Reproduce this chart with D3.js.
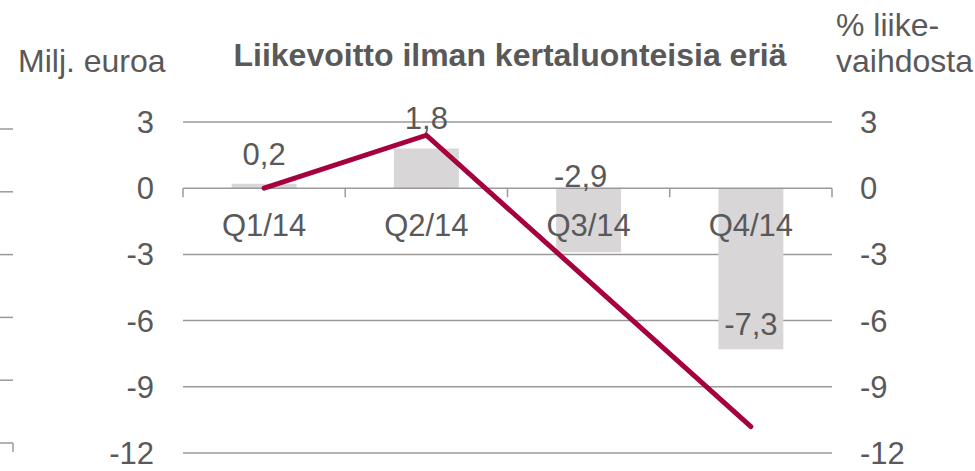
<!DOCTYPE html>
<html>
<head>
<meta charset="utf-8">
<script src="https://cdn.jsdelivr.net/npm/d3@7"></script>
<style>
	body { margin: 0; background: #fff; }
	svg { display: block; font-family: "Liberation Sans", Arial, sans-serif; }
</style>
</head>
<body>
<svg id="chart" width="975" height="471"></svg>
<script>
// data
let categories = ['Q1/14', 'Q2/14', 'Q3/14', 'Q4/14']
let profit = [0.2, 1.8, -2.9, -7.3]         // Milj. euroa (bars)
let margin = [0.0, 2.4, -4.2, -10.8]        // % liikevaihdosta (line)
let profitLabels = ['0,2', '1,8', '-2,9', '-7,3']
let yTicks = [3, 0, -3, -6, -9, -12]
let ghostTicks = [0, 1, 2, 3, 4, 5]         // cut-off axis of a neighbour chart at the left edge

let svg = d3.select('#chart')
let textColor = '#595959'
let gridColor = '#9a9a9a'
let fontSize = 31

let x = d3.scaleBand()
	.domain(categories)
	.range([183, 832])
	.paddingInner(0)
	.paddingOuter(0)

let y = d3.scaleLinear()
	.domain([-12, 3])
	.range([453, 122])

// gridlines
svg.append('g')
	.selectAll('line')
	.data(yTicks.filter(d => d !== 0))
	.enter()
	.append('line')
	.attr('x1', 183)
	.attr('x2', 832)
	.attr('y1', d => y(d))
	.attr('y2', d => y(d))
	.attr('stroke', gridColor)
	.attr('stroke-width', 1.5)

// bars
let barW = x.bandwidth() * 0.4
svg.append('g')
	.selectAll('rect')
	.data(profit)
	.enter()
	.append('rect')
	.attr('x', (d, i) => x(categories[i]) + (x.bandwidth() - barW) / 2)
	.attr('y', d => y(Math.max(0, d)))
	.attr('width', barW)
	.attr('height', d => Math.abs(y(d) - y(0)))
	.attr('fill', '#d8d6d7')

// zero axis with category ticks
let bottomAxis = d3.axisBottom(x).tickSize(0).tickFormat('')
let axisG = svg.append('g')
	.attr('transform', `translate(0, ${y(0)})`)
	.call(bottomAxis)
axisG.select('.domain').remove()
axisG.append('line')
	.attr('x1', 183).attr('x2', 832)
	.attr('stroke', gridColor).attr('stroke-width', 1.5)
axisG.selectAll('.bound')
	.data(categories.concat(['end']))
	.enter()
	.append('line')
	.attr('x1', (d, i) => i < categories.length ? x(d) : x.range()[1])
	.attr('x2', (d, i) => i < categories.length ? x(d) : x.range()[1])
	.attr('y1', 0).attr('y2', 9)
	.attr('stroke', gridColor).attr('stroke-width', 1.5)

// category labels
svg.append('g')
	.selectAll('text')
	.data(categories)
	.enter()
	.append('text')
	.attr('x', d => x(d) + x.bandwidth() / 2)
	.attr('y', y(0) + 48)
	.attr('text-anchor', 'middle')
	.attr('fill', textColor)
	.attr('font-size', fontSize)
	.text(d => d)

// line
let line = d3.line()
	.x((d, i) => x(categories[i]) + x.bandwidth() / 2)
	.y(d => y(d))
svg.append('path')
	.datum(margin)
	.attr('d', line)
	.attr('fill', 'none')
	.attr('stroke', '#a6003f')
	.attr('stroke-width', 5)
	.attr('stroke-linecap', 'round')
	.attr('stroke-linejoin', 'miter')

// data labels
let labelOffset = [[0, -19], [0, -19], [-8, -1], [0, -14]]
svg.append('g')
	.selectAll('text')
	.data(profit)
	.enter()
	.append('text')
	.attr('x', (d, i) => x(categories[i]) + x.bandwidth() / 2 + labelOffset[i][0])
	.attr('y', (d, i) => (d >= 0 || i === 2 ? y(Math.max(d, 0)) : y(d)) + labelOffset[i][1])
	.attr('text-anchor', 'middle')
	.attr('fill', textColor)
	.attr('font-size', fontSize)
	.text((d, i) => profitLabels[i])

// y tick labels, both sides (same scale)
svg.append('g')
	.selectAll('text')
	.data(yTicks)
	.enter()
	.append('text')
	.attr('x', 154)
	.attr('y', d => y(d) + 11)
	.attr('text-anchor', 'end')
	.attr('fill', textColor)
	.attr('font-size', fontSize)
	.text(d => d)

svg.append('g')
	.selectAll('text')
	.data(yTicks)
	.enter()
	.append('text')
	.attr('x', 860)
	.attr('y', d => y(d) + 11)
	.attr('text-anchor', 'start')
	.attr('fill', textColor)
	.attr('font-size', fontSize)
	.text(d => d)

// titles
svg.append('text')
	.attr('x', 510).attr('y', 66)
	.attr('text-anchor', 'middle')
	.attr('fill', textColor)
	.attr('font-size', 32)
	.attr('font-weight', 'bold')
	.text('Liikevoitto ilman kertaluonteisia eriä')

svg.append('text')
	.attr('x', 18).attr('y', 72)
	.attr('fill', textColor)
	.attr('font-size', 32)
	.text('Milj. euroa')

svg.append('text')
	.attr('x', 836).attr('y', 36)
	.attr('fill', textColor)
	.attr('font-size', 32)
	.text('% liike-')

svg.append('text')
	.attr('x', 836).attr('y', 72)
	.attr('fill', textColor)
	.attr('font-size', 32)
	.text('vaihdosta')

// neighbour chart fragment at left edge
let ghost = d3.scaleLinear().domain([5, 0]).range([129, 443])
svg.append('g')
	.selectAll('line')
	.data(ghostTicks)
	.enter()
	.append('line')
	.attr('x1', 0).attr('x2', 13)
	.attr('y1', d => ghost(d)).attr('y2', d => ghost(d))
	.attr('stroke', gridColor).attr('stroke-width', 1.5)
svg.append('line')
	.attr('x1', 13).attr('x2', 13)
	.attr('y1', ghost(0)).attr('y2', ghost(0) + 9)
	.attr('stroke', gridColor).attr('stroke-width', 1.5)
</script>
</body>
</html>
